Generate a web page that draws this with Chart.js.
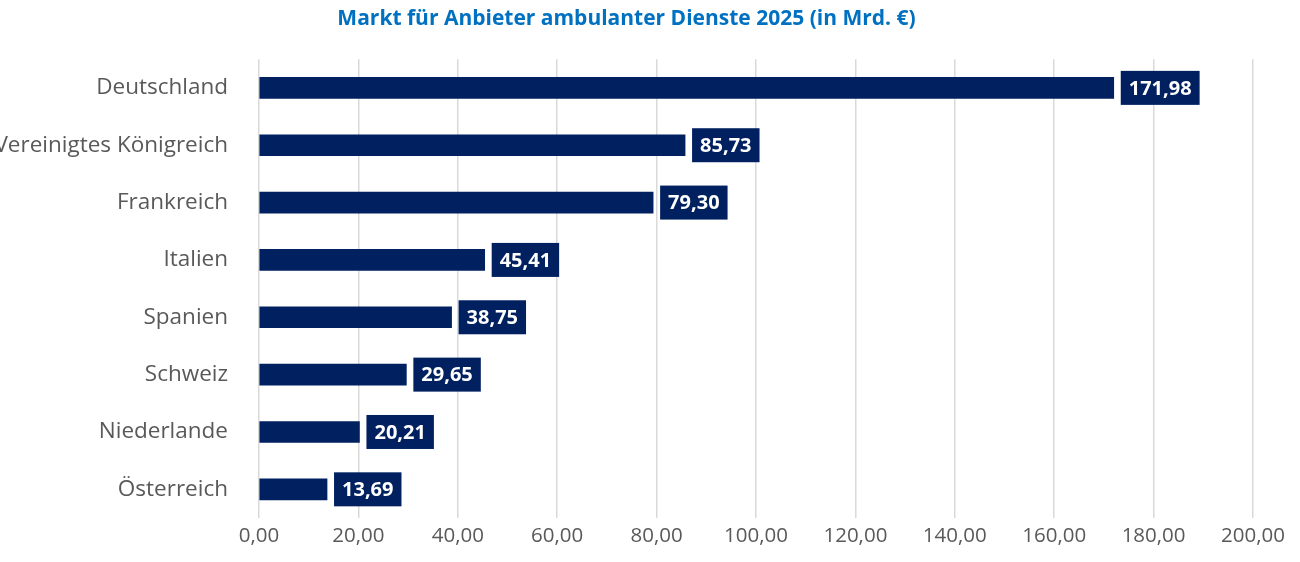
<!DOCTYPE html>
<html>
<head>
<meta charset="utf-8">
<script src="https://cdn.jsdelivr.net/npm/chart.js@4/dist/chart.umd.min.js"></script>
<style>
  html, body { margin: 0; padding: 0; background: #fff; }
  #wrap { width: 1300px; height: 562px; }
</style>
</head>
<body>
<div id="wrap"><canvas id="myChart"></canvas></div>
<script>
const countries = ["Deutschland", "Vereinigtes Königreich", "Frankreich", "Italien", "Spanien", "Schweiz", "Niederlande", "Österreich"];
const marketValues = [171.98, 85.73, 79.30, 45.41, 38.75, 29.65, 20.21, 13.69];
const chartTitle = "Markt für Anbieter ambulanter Dienste 2025 (in Mrd. €)";

const navy = "#002060";
const fmt = (v) => v.toFixed(2).replace(".", ",");

// value boxes next to every bar
const valueBoxes = {
  id: "valueBoxes",
  afterDatasetsDraw(chart) {
    const ctx = chart.ctx;
    const meta = chart.getDatasetMeta(0);
    ctx.save();
    ctx.font = "bold 20px 'Open Sans', sans-serif";
    ctx.textBaseline = "middle";
    meta.data.forEach((bar, i) => {
      const text = fmt(marketValues[i]);
      const w = ctx.measureText(text).width + 16;
      const h = 34;
      const x = bar.x + 7;
      ctx.fillStyle = navy;
      ctx.fillRect(x, bar.y - h / 2, w, h);
      ctx.fillStyle = "#fff";
      ctx.fillText(text, x + 8, bar.y + 1);
    });
    ctx.restore();
  }
};

new Chart(document.getElementById("myChart"), {
  type: "bar",
  data: {
    labels: countries,
    datasets: [{
      data: marketValues,
      backgroundColor: navy,
      barThickness: 21,
    }],
  },
  options: {
    indexAxis: "y",
    responsive: true,
    maintainAspectRatio: false,
    animation: false,
    layout: { padding: { left: 0, right: 47, top: 0, bottom: 0 } },
    plugins: {
      legend: { display: false },
      tooltip: { enabled: false },
      title: {
        display: true,
        text: chartTitle,
        color: "#0070C0",
        font: { family: "'Open Sans', sans-serif", size: 21, weight: "bold" },
        padding: { top: 6, bottom: 28 },
      },
    },
    scales: {
      x: {
        min: 0,
        max: 200,
        ticks: {
          stepSize: 20,
          color: "#595959",
          font: { family: "'Open Sans', sans-serif", size: 20.5 },
          callback: (v) => fmt(v),
          padding: 6,
          maxRotation: 0,
        },
        grid: { color: "#d9d9d9", lineWidth: 1.5, drawTicks: false },
        border: { display: false },
        afterFit: (s) => { s.height = 44; },
      },
      y: {
        ticks: {
          color: "#595959",
          font: { family: "'Open Sans', sans-serif", size: 22.5 },
          padding: 23,
        },
        grid: { display: false },
        border: { display: false },
        afterFit: (s) => { s.width = 259; },
      },
    },
  },
  plugins: [valueBoxes],
});
</script>
</body>
</html>
